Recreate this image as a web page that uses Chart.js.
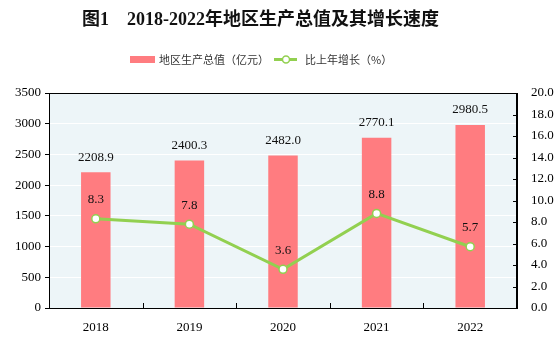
<!DOCTYPE html>
<html>
<head>
<meta charset="utf-8">
<script src="https://cdn.jsdelivr.net/npm/chart.js@4/dist/chart.umd.min.js"></script>
<style>
html,body{margin:0;padding:0;background:#fff;}
canvas{display:block;}
</style>
</head>
<body>
<canvas id="c" width="556" height="356"></canvas>
<script>
const titleText = '图1　2018-2022年地区生产总值及其增长速度';
const categories = ['2018', '2019', '2020', '2021', '2022'];
const gdpValues = [2208.9, 2400.3, 2482.0, 2770.1, 2980.5];
const growthValues = [8.3, 7.8, 3.6, 8.8, 5.7];
const gdpLabel = '地区生产总值（亿元）';
const growthLabel = '比上年增长（%）';
const leftAxisMax = 3500, leftAxisStep = 500;
const rightAxisMax = 20, rightAxisStep = 2;

const BAR_COLOR = '#FF7C80';
const LINE_COLOR = '#92D050';
const PLOT_BG = '#EDF5F8';
const SERIF = '"Liberation Serif", "Times New Roman", serif';
const CJK = '"Noto Sans CJK SC", sans-serif';

const decorPlugin = {
  id: 'decor',
  beforeDraw(chart) {
    const {ctx, chartArea: a} = chart;
    ctx.save();
    ctx.fillStyle = PLOT_BG;
    ctx.fillRect(a.left, a.top, a.right - a.left, a.bottom - a.top);
    ctx.restore();
  },
  afterDraw(chart) {
    const {ctx, chartArea: a} = chart;
    ctx.save();
    // frame
    ctx.strokeStyle = '#000';
    ctx.lineWidth = 1;
    ctx.beginPath();
    ctx.moveTo(a.left, a.top + 0.5); ctx.lineTo(a.right, a.top + 0.5);
    ctx.moveTo(Math.round(a.right) - 0.5, a.top); ctx.lineTo(Math.round(a.right) - 0.5, a.bottom);
    ctx.stroke();
    // inward ticks on right axis
    const y1 = chart.scales.y1;
    ctx.beginPath();
    y1.ticks.forEach(t => {
      const py = Math.round(y1.getPixelForValue(t.value)) + 0.5;
      ctx.moveTo(a.right - 4, py); ctx.lineTo(a.right, py);
    });
    // inward ticks between categories on x axis
    const xs = chart.scales.x;
    for (let i = 0; i < categories.length - 1; i++) {
      const px = Math.round((xs.getPixelForValue(i) + xs.getPixelForValue(i + 1)) / 2) + 0.5;
      ctx.moveTo(px, a.bottom); ctx.lineTo(px, a.bottom - 5);
    }
    ctx.stroke();

    // value labels
    ctx.fillStyle = '#111';
    ctx.font = '13px ' + SERIF;
    ctx.textAlign = 'center';
    ctx.textBaseline = 'middle';
    chart.getDatasetMeta(0).data.forEach((el, i) => {
      ctx.fillText(gdpValues[i].toFixed(1), el.x, el.y - 15);
    });
    chart.getDatasetMeta(1).data.forEach((el, i) => {
      ctx.fillText(growthValues[i].toFixed(1), el.x, el.y - 19);
    });

    // title
    ctx.font = 'bold 18px ' + SERIF + ', ' + CJK;
    ctx.fillStyle = '#111';
    ctx.textAlign = 'center';
    ctx.fillText(titleText, 260.5, 20);

    // legend
    ctx.font = '11px ' + CJK;
    ctx.textAlign = 'left';
    let x = 130;
    const ly = 59.5;
    ctx.fillStyle = BAR_COLOR;
    ctx.fillRect(x, ly - 3.5, 25, 7);
    x += 29;
    ctx.fillStyle = '#333';
    ctx.fillText(gdpLabel, x, ly);
    x += ctx.measureText(gdpLabel).width + 5;
    ctx.strokeStyle = LINE_COLOR;
    ctx.lineWidth = 3;
    ctx.beginPath(); ctx.moveTo(x, ly); ctx.lineTo(x + 23, ly); ctx.stroke();
    ctx.beginPath(); ctx.arc(x + 12, ly, 3.5, 0, Math.PI * 2);
    ctx.fillStyle = '#fff'; ctx.fill();
    ctx.lineWidth = 1.5; ctx.stroke();
    x += 31;
    ctx.fillStyle = '#333';
    ctx.fillText(growthLabel, x, ly);
    ctx.restore();
  }
};

new Chart(document.getElementById('c'), {
  data: {
    labels: categories,
    datasets: [
      {
        type: 'bar',
        label: gdpLabel,
        data: gdpValues,
        yAxisID: 'y',
        backgroundColor: BAR_COLOR,
        borderWidth: 0,
        categoryPercentage: 1,
        barPercentage: 0.315,
        order: 2
      },
      {
        type: 'line',
        label: growthLabel,
        data: growthValues,
        yAxisID: 'y1',
        borderColor: LINE_COLOR,
        borderWidth: 3,
        pointRadius: 4,
        pointBackgroundColor: '#fff',
        pointBorderColor: LINE_COLOR,
        pointBorderWidth: 1.5,
        tension: 0,
        order: 1
      }
    ]
  },
  options: {
    responsive: false,
    devicePixelRatio: 1,
    animation: false,
    layout: { padding: { top: 93, left: 0, right: 0, bottom: 0 } },
    plugins: { legend: { display: false }, title: { display: false }, tooltip: { enabled: false } },
    scales: {
      x: {
        grid: { display: false },
        border: { display: true, color: '#000', width: 1 },
        ticks: { color: '#000', font: { family: SERIF, size: 13 }, padding: 4 },
        afterFit(s) { s.height = 48; }
      },
      y: {
        position: 'left',
        min: 0, max: leftAxisMax,
        grid: { color: '#fff', lineWidth: 1, tickColor: '#000', tickLength: 4, drawTicks: true },
        border: { display: true, color: '#000', width: 1 },
        ticks: { stepSize: leftAxisStep, color: '#000', font: { family: SERIF, size: 13 }, padding: 4,
                 callback: v => String(v) },
        afterFit(s) { s.width = 49; }
      },
      y1: {
        position: 'right',
        min: 0, max: rightAxisMax,
        grid: { display: false },
        border: { display: true, color: '#000', width: 1 },
        ticks: { stepSize: rightAxisStep, color: '#000', font: { family: SERIF, size: 13 }, padding: 6,
                 callback: v => Number(v).toFixed(1) },
        afterFit(s) { s.width = 39; }
      }
    }
  },
  plugins: [decorPlugin]
});
</script>
</body>
</html>
